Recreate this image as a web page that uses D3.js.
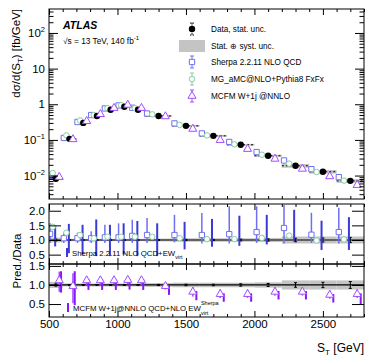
<!DOCTYPE html>
<html>
<head>
<meta charset="utf-8">
<script src="https://cdn.jsdelivr.net/npm/d3@7"></script>
<style>
  body { margin: 0; background: #fff; }
  text { font-family: "Liberation Sans", Arial, sans-serif; }
</style>
</head>
<body>
<div id="chart"></div>
<script>
// S_T binning [GeV]
var binEdges = [500, 600, 700, 800, 900, 1000, 1100, 1200, 1400, 1600, 1800, 2000, 2200, 2400, 2600, 2800];

// measured cross section [fb/GeV]
var dataXsec = [0.0081, 0.107, 0.30, 0.47, 0.70, 0.85, 0.70, 0.47, 0.248, 0.130, 0.073, 0.0359, 0.0188, 0.0128, 0.0071];
var dataTotRel = [0.08, 0.04, 0.04, 0.04, 0.04, 0.04, 0.04, 0.05, 0.06, 0.06, 0.06, 0.07, 0.12, 0.12, 0.12];
var dataStatRel = [0.03, 0.01, 0.01, 0.01, 0.01, 0.01, 0.01, 0.015, 0.02, 0.02, 0.03, 0.04, 0.06, 0.07, 0.09];

// Pred./Data ratios
var sherpaRatio = [1.21, 1.06, 1.06, 1.06, 1.09, 1.09, 1.14, 1.17, 1.17, 1.17, 1.20, 1.27, 1.41, 1.18, 1.27];
var sherpaLo = [0.90, 0.90, 0.90, 0.90, 0.90, 0.90, 0.90, 0.90, 0.92, 0.88, 0.88, 0.90, 0.88, 0.90, 0.88];
var sherpaHi = [1.57, 1.25, 1.25, 1.30, 1.52, 1.57, 1.69, 1.75, 1.86, 1.92, 2.15, 2.15, 2.20, 1.93, 2.10];

var mgRatio = [1.45, 1.25, 1.17, 1.06, 1.11, 1.11, 1.11, 1.11, 1.06, 1.03, 1.03, 1.07, 1.15, 0.98, 1.02];
var mgErr = [0.08, 0.06, 0.06, 0.06, 0.06, 0.06, 0.06, 0.06, 0.06, 0.07, 0.07, 0.07, 0.08, 0.07, 0.08];

var sherpaEwLo = [0.78, 0.55, 0.50, 0.45, 0.45, 0.50, 0.45, 0.45, 0.68, 0.77, 0.80, 0.85, 0.95, 0.66, 0.66];
var sherpaEwHi = [1.50, 1.55, 1.52, 1.70, 1.52, 1.57, 1.65, 1.57, 1.62, 1.72, 1.83, 1.86, 2.03, 1.66, 1.78];

var mcfmRatio = [1.12, 0.97, 1.12, 1.12, 1.12, 1.13, 1.12, 0.97, 0.82, 0.76, 0.76, 0.82, 0.82, 0.74, 0.76];
var mcfmLo = [0.82, 0.52, 1.00, 1.00, 1.02, 1.02, 1.00, 0.88, 0.70, 0.66, 0.66, 0.72, 0.72, 0.64, 0.66];
var mcfmHi = [1.35, 1.31, 1.22, 1.22, 1.22, 1.23, 1.22, 1.06, 0.95, 0.88, 0.88, 0.94, 0.94, 0.86, 0.88];

var mcfmEwLo = [0.80, 0.47, 0.87, 0.87, 0.87, 0.88, 0.87, 0.74, 0.60, 0.56, 0.56, 0.62, 0.62, 0.54, 0.48];
var mcfmEwHi = [1.36, 1.36, 1.15, 1.15, 1.15, 1.16, 1.15, 1.00, 0.84, 0.78, 0.78, 0.84, 0.84, 0.76, 0.78];

var xMajor = [500, 1000, 1500, 2000, 2500];

var cSherpa = "#6f6ff0", cSherpaEw = "#3a3ad8", cMG = "#86cfa2", cMcfm = "#a24cff", cMcfmEw = "#8a16f5";

var W = 374, H = 364;
var svg = d3.select("#chart").append("svg").attr("width", W).attr("height", H);

var x = d3.scaleLinear().domain([500, 2800]).range([49, 364]);
var yMain = d3.scaleLog().domain([2.2e-3, 470]).range([199, 9]);
var yR1 = d3.scaleLinear().domain([0.18, 2.23]).range([264, 204]);
var yR2 = d3.scaleLinear().domain([0.16, 1.55]).range([317, 264]);

var bins = d3.range(binEdges.length - 1).map(function(i) {
  return { i: i, lo: binEdges[i], hi: binEdges[i + 1], c: (binEdges[i] + binEdges[i + 1]) / 2 };
});
function xo(b, f) { return x(b.c) + f * (x(b.hi) - x(b.lo)); }

// clip paths for each pad
var defs = svg.append("defs");
function clip(id, y) {
  defs.append("clipPath").attr("id", id).append("rect")
    .attr("x", x.range()[0]).attr("y", y.range()[1])
    .attr("width", x.range()[1] - x.range()[0]).attr("height", y.range()[0] - y.range()[1]);
}
clip("cMain", yMain); clip("cR1", yR1); clip("cR2", yR2);

// frame + inward ticks for one pad
function frame(y, isLog, xLabels, yMajor) {
  var g = svg.append("g");
  var top = y.range()[1], bot = y.range()[0];
  var xMinor = d3.range(500, 2801, 100).filter(function(v) { return v % 500 != 0; });
  g.append("g").attr("transform", "translate(0," + bot + ")")
    .call(d3.axisBottom(x).tickValues(xMajor).tickSize(-6).tickSizeOuter(0).tickPadding(3)
      .tickFormat(xLabels ? d3.format("d") : function() { return ""; }));
  g.append("g").attr("transform", "translate(0," + bot + ")")
    .call(d3.axisBottom(x).tickValues(xMinor).tickSize(-3).tickSizeOuter(0).tickFormat(""));
  g.append("g").attr("transform", "translate(0," + top + ")")
    .call(d3.axisTop(x).tickValues(xMajor).tickSize(-6).tickSizeOuter(0).tickFormat(""));
  g.append("g").attr("transform", "translate(0," + top + ")")
    .call(d3.axisTop(x).tickValues(xMinor).tickSize(-3).tickSizeOuter(0).tickFormat(""));

  var left = x.range()[0], right = x.range()[1];
  var majLen = isLog ? 9 : 12;
  g.append("g").attr("class", "yl").attr("transform", "translate(" + left + ",0)")
    .call(d3.axisLeft(y).tickValues(yMajor).tickSize(-majLen).tickSizeOuter(0).tickPadding(4));
  g.append("g").attr("transform", "translate(" + right + ",0)")
    .call(d3.axisRight(y).tickValues(yMajor).tickSize(-majLen).tickSizeOuter(0).tickFormat(""));
  if (isLog) {
    var minor = [];
    [-3, -2, -1, 0, 1, 2].forEach(function(e) {
      for (var k = 2; k <= 9; k++) {
        var v = k * Math.pow(10, e);
        if (v > y.domain()[0] && v < y.domain()[1]) minor.push(v);
      }
    });
    g.append("g").attr("transform", "translate(" + left + ",0)")
      .call(d3.axisLeft(y).tickValues(minor).tickSize(-4.5).tickSizeOuter(0).tickFormat(""));
    g.append("g").attr("transform", "translate(" + right + ",0)")
      .call(d3.axisRight(y).tickValues(minor).tickSize(-4.5).tickSizeOuter(0).tickFormat(""));
  }
  g.append("rect").attr("x", left).attr("y", top).attr("width", right - left).attr("height", bot - top)
    .attr("fill", "none").attr("stroke", "#000").attr("stroke-width", 1);
  g.selectAll(".domain").remove();
  g.selectAll(".tick line").attr("stroke", "#000");
  g.selectAll("text").attr("font-size", 11.5).attr("fill", "#000")
    .attr("font-family", "'Liberation Sans', Arial, sans-serif");
  return g;
}

// ---------- main pad ----------
var gm = svg.append("g").attr("clip-path", "url(#cMain)");
gm.selectAll("rect.band").data(bins).enter().append("rect")
  .attr("x", function(b) { return x(b.lo); })
  .attr("width", function(b) { return x(b.hi) - x(b.lo); })
  .attr("y", function(b) { return yMain(dataXsec[b.i] * (1 + dataTotRel[b.i])); })
  .attr("height", function(b) { return yMain(dataXsec[b.i] * (1 - dataTotRel[b.i])) - yMain(dataXsec[b.i] * (1 + dataTotRel[b.i])); })
  .attr("fill", "#c4c4c4");
gm.selectAll("line.xerr").data(bins).enter().append("line")
  .attr("x1", function(b) { return x(b.lo); }).attr("x2", function(b) { return x(b.hi); })
  .attr("y1", function(b) { return yMain(dataXsec[b.i]); }).attr("y2", function(b) { return yMain(dataXsec[b.i]); })
  .attr("stroke", "#000").attr("stroke-width", 1).attr("stroke-dasharray", "2,2");

function mcMain(ratio, f, type, col) {
  gm.selectAll(null).data(bins).enter().append("path")
    .attr("d", d3.symbol().type(type).size(type === d3.symbolCircle ? 24 : 28))
    .attr("transform", function(b) { return "translate(" + xo(b, f) + "," + yMain(dataXsec[b.i] * ratio[b.i]) + ")"; })
    .attr("fill", "#fff").attr("stroke", col).attr("stroke-width", 1);
}
mcMain(sherpaRatio, -0.42, d3.symbolSquare, cSherpa);
mcMain(mgRatio, -0.23, d3.symbolCircle, cMG);
gm.selectAll("circle.data").data(bins).enter().append("circle")
  .attr("cx", function(b) { return x(b.c); })
  .attr("cy", function(b) { return yMain(dataXsec[b.i]); })
  .attr("r", 3.2).attr("fill", "#000");
mcMain(mcfmRatio, 0.25, d3.symbolTriangle, cMcfm);

frame(yMain, true, false, [1e-2, 1e-1, 1, 10, 100]);
svg.selectAll(".yl .tick text").filter(function(d) { return d < 1 || d > 10; }).each(function(d) {
  var e = Math.round(Math.log10(d));
  var t = d3.select(this).text("10");
  t.append("tspan").attr("dy", -5).attr("font-size", 7.5).text(e < 0 ? "\u2212" + (-e) : e);
});

// ---------- ratio pads ----------
function ratioBase(y, cid) {
  var g = svg.append("g").attr("clip-path", "url(#" + cid + ")");
  g.selectAll(null).data(bins).enter().append("rect")
    .attr("x", function(b) { return x(b.lo); })
    .attr("width", function(b) { return x(b.hi) - x(b.lo); })
    .attr("y", function(b) { return y(1 + dataTotRel[b.i]); })
    .attr("height", function(b) { return y(1 - dataTotRel[b.i]) - y(1 + dataTotRel[b.i]); })
    .attr("fill", "#c4c4c4");
  g.append("line").attr("x1", x.range()[0]).attr("x2", x.range()[1])
    .attr("y1", y(1)).attr("y2", y(1)).attr("stroke", "#000").attr("stroke-width", 1.2);
  g.selectAll(null).data(bins).enter().append("path")
    .attr("d", function(b) {
      var xc = x(b.c), y0 = y(1 - dataStatRel[b.i]), y1 = y(1 + dataStatRel[b.i]);
      return "M" + xc + "," + y0 + "V" + y1 + "M" + (xc - 1.5) + "," + y0 + "h3M" + (xc - 1.5) + "," + y1 + "h3";
    })
    .attr("stroke", "#000").attr("stroke-width", 1).attr("fill", "none");
  return g;
}
function bars(g, y, lo, hi, f, col, w) {
  g.selectAll(null).data(bins).enter().append("line")
    .attr("x1", function(b) { return xo(b, f); }).attr("x2", function(b) { return xo(b, f); })
    .attr("y1", function(b) { return y(lo[b.i]); }).attr("y2", function(b) { return y(hi[b.i]); })
    .attr("stroke", col).attr("stroke-width", w);
}
function marks(g, y, ratio, f, type, col) {
  g.selectAll(null).data(bins).enter().append("path")
    .attr("d", d3.symbol().type(type).size(type === d3.symbolCircle ? 24 : 28))
    .attr("transform", function(b) { return "translate(" + xo(b, f) + "," + y(ratio[b.i]) + ")"; })
    .attr("fill", "#fff").attr("stroke", col).attr("stroke-width", 1);
}

var g1 = ratioBase(yR1, "cR1");
bars(g1, yR1, sherpaLo, sherpaHi, -0.42, cSherpa, 1.5);
bars(g1, yR1, mgRatio.map(function(v, i) { return v - mgErr[i]; }), mgRatio.map(function(v, i) { return v + mgErr[i]; }), -0.23, cMG, 1.2);
bars(g1, yR1, sherpaEwLo, sherpaEwHi, -0.05, cSherpaEw, 2);
marks(g1, yR1, sherpaRatio, -0.42, d3.symbolSquare, cSherpa);
marks(g1, yR1, mgRatio, -0.23, d3.symbolCircle, cMG);
frame(yR1, false, false, [0.5, 1, 1.5, 2]);

var g2 = ratioBase(yR2, "cR2");
bars(g2, yR2, mcfmLo, mcfmHi, 0.25, cMcfm, 1.5);
bars(g2, yR2, mcfmEwLo, mcfmEwHi, 0.38, cMcfmEw, 2);
marks(g2, yR2, mcfmRatio, 0.25, d3.symbolTriangle, cMcfm);
frame(yR2, false, true, [0.5, 1, 1.5]);

// ---------- texts ----------
svg.append("text").attr("x", 63).attr("y", 29).attr("font-size", 10.5)
  .attr("font-weight", "bold").attr("font-style", "italic").text("ATLAS");
var en = svg.append("text").attr("x", 63).attr("y", 44).attr("font-size", 8.3).text("\u221As = 13 TeV, 140 fb");
en.append("tspan").attr("dy", -4).attr("font-size", 6).text("-1");

var yt = svg.append("text").attr("transform", "translate(20,9) rotate(-90)")
  .attr("text-anchor", "end").attr("font-size", 11.5).text("d\u03C3/d(S");
yt.append("tspan").attr("dy", 3).attr("font-size", 8).text("T");
yt.append("tspan").attr("dy", -3).text(") [fb/GeV]");

svg.append("text").attr("transform", "translate(21,261) rotate(-90)")
  .attr("text-anchor", "middle").attr("font-size", 11.5).text("Pred./Data");

var xt = svg.append("text").attr("x", 364).attr("y", 352).attr("text-anchor", "end").attr("font-size", 12).text("S");
xt.append("tspan").attr("dy", 3).attr("font-size", 8).text("T");
xt.append("tspan").attr("dy", -3).text(" [GeV]");

// legend
var legend = svg.append("g").attr("font-size", 8.2);
var ly = [29, 46, 62, 79, 96], lx = 192;
legend.append("rect").attr("x", 179).attr("y", ly[1] - 6).attr("width", 26).attr("height", 12).attr("fill", "#c4c4c4");
function capBar(cx, cy, col, dash) {
  legend.append("path").attr("d", "M" + cx + "," + (cy - 6) + "V" + (cy + 6) + "M" + (cx - 2) + "," + (cy - 6) + "h4M" + (cx - 2) + "," + (cy + 6) + "h4")
    .attr("stroke", col).attr("fill", "none").attr("stroke-width", 1).attr("stroke-dasharray", dash || null);
}
capBar(lx, ly[0], "#000", "1.5,1");
legend.append("circle").attr("cx", lx).attr("cy", ly[0]).attr("r", 3.2).attr("fill", "#000");
capBar(lx, ly[2], cSherpa);
legend.append("path").attr("d", d3.symbol().type(d3.symbolSquare).size(28)).attr("transform", "translate(" + lx + "," + ly[2] + ")").attr("fill", "#fff").attr("stroke", cSherpa);
capBar(lx, ly[3], cMG);
legend.append("path").attr("d", d3.symbol().type(d3.symbolCircle).size(24)).attr("transform", "translate(" + lx + "," + ly[3] + ")").attr("fill", "#fff").attr("stroke", cMG);
capBar(lx, ly[4], cMcfm);
legend.append("path").attr("d", d3.symbol().type(d3.symbolTriangle).size(28)).attr("transform", "translate(" + lx + "," + ly[4] + ")").attr("fill", "#fff").attr("stroke", cMcfm);
var ltexts = ["Data, stat. unc.", "Stat. \u2295 syst. unc.", "Sherpa 2.2.11 NLO QCD", "MG_aMC@NLO+Pythia8 FxFx", "MCFM W+1j @NNLO"];
legend.selectAll("text").data(ltexts).enter().append("text")
  .attr("x", 211).attr("y", function(d, i) { return ly[i] + 3; }).text(function(d) { return d; });

// ratio pad legends
svg.append("line").attr("x1", 67).attr("x2", 67).attr("y1", 248).attr("y2", 257).attr("stroke", cSherpaEw).attr("stroke-width", 2);
var l1 = svg.append("text").attr("x", 72).attr("y", 256).attr("font-size", 7.8).text("Sherpa 2.2.11 NLO QCD+EW");
l1.append("tspan").attr("dy", 3).attr("font-size", 5.5).text("virt");

svg.append("line").attr("x1", 68).attr("x2", 68).attr("y1", 303).attr("y2", 312).attr("stroke", cMcfmEw).attr("stroke-width", 2);
var l2 = svg.append("text").attr("x", 73).attr("y", 311).attr("font-size", 7.8).text("MCFM W+1j@NNLO QCD+NLO EW");
var sx = 73 + l2.node().getComputedTextLength();
svg.append("text").attr("x", sx).attr("y", 305).attr("font-size", 5.5).text("Sherpa");
svg.append("text").attr("x", sx).attr("y", 315).attr("font-size", 5.5).text("virt");
</script>
</body>
</html>
